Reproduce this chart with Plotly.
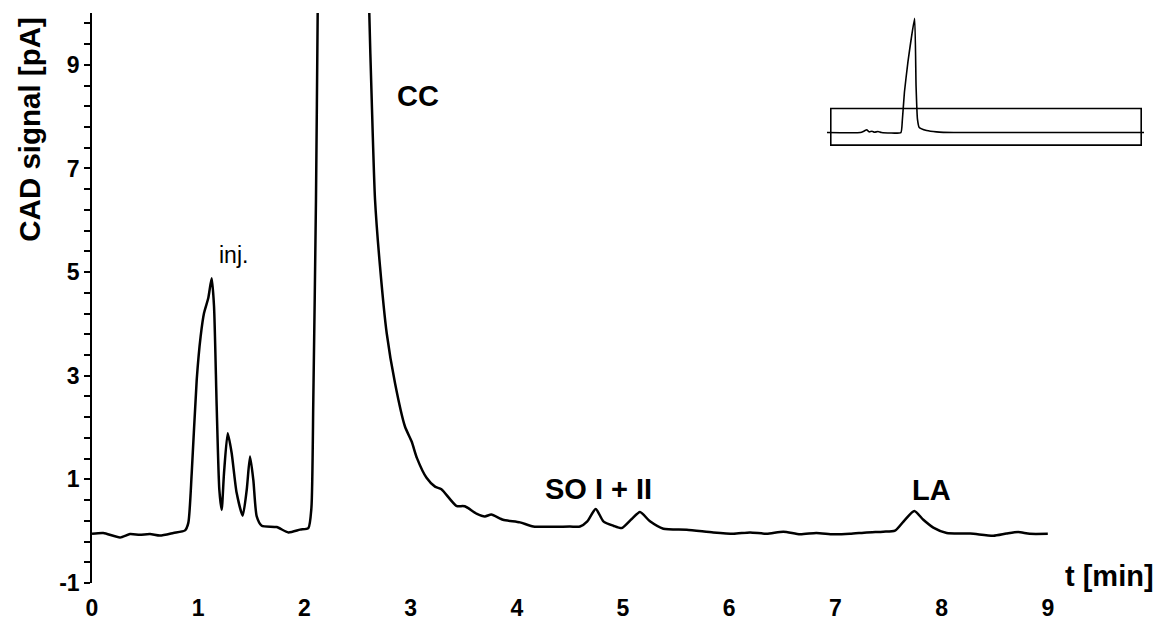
import plotly.graph_objects as go

# ---------------- data ----------------
t_min = [0.0, 0.106, 0.264, 0.358, 0.45, 0.546, 0.64, 0.766, 0.876, 0.907, 0.939, 0.986,
         1.023, 1.055, 1.095, 1.127, 1.149, 1.174, 1.199, 1.221, 1.243, 1.278, 1.315, 1.362,
         1.419, 1.457, 1.488, 1.519, 1.551, 1.598, 1.739, 1.849, 1.959, 2.037, 2.066, 2.084,
         2.109, 2.125, 2.15, 2.35, 2.57, 2.611, 2.634, 2.665, 2.712, 2.775, 2.853, 2.947,
         3.01, 3.06, 3.15, 3.23, 3.29, 3.43, 3.51, 3.62, 3.70, 3.76, 3.87, 4.03, 4.155,
         4.50, 4.595, 4.664, 4.743, 4.815, 4.909, 4.988, 5.082, 5.16, 5.254, 5.38, 5.60,
         5.85, 6.04, 6.196, 6.353, 6.51, 6.667, 6.82, 6.98, 7.137, 7.295, 7.45, 7.561,
         7.655, 7.743, 7.828, 7.922, 8.048, 8.27, 8.487, 8.61, 8.72, 8.83, 9.0]
signal_pA = [-0.05, -0.035, -0.12, -0.055, -0.07, -0.055, -0.085, -0.035, 0.015, 0.16, 1.12, 2.92,
             3.76, 4.21, 4.50, 4.88, 4.34, 2.41, 0.80, 0.41, 1.12, 1.89, 1.51, 0.74,
             0.30, 0.80, 1.44, 0.99, 0.285, 0.105, 0.08, -0.024, 0.03, 0.06, 0.45, 2.54,
             6.40, 10.0, 16.0, 30.0, 16.0, 10.0, 8.32, 6.40, 5.11, 3.82, 2.86, 2.02,
             1.73, 1.41, 1.03, 0.86, 0.81, 0.49, 0.48, 0.34, 0.285, 0.32, 0.22, 0.17, 0.09,
             0.09, 0.09, 0.19, 0.43, 0.19, 0.105, 0.06, 0.235, 0.37, 0.19, 0.048, 0.03,
             -0.024, -0.05, -0.024, -0.05, -0.01, -0.06, -0.035, -0.06, -0.05, -0.024, -0.01, 0.009,
             0.22, 0.39, 0.22, 0.07, -0.035, -0.045, -0.087, -0.045, -0.016, -0.05, -0.05]

# overview inset (full-scale chromatogram)
inset_t = [0.0, 0.95, 1.05, 1.13, 1.2, 1.28, 1.35, 1.45, 1.55, 2.10, 2.14, 2.20, 2.30, 2.49,
           2.53, 2.57, 2.62, 2.83, 3.11, 3.6, 9.0]
inset_signal = [0.0, 0.0, 0.4, 0.8, 0.2, 0.4, 0.1, 0.3, 0.0, 0.0, 3.5, 12.0, 21.0, 34.0,
                14.0, 4.0, 1.5, 0.6, 0.2, 0.0, 0.0]
zoom_window_t = [0.11, 8.92]
zoom_window_signal = [-3.74, 7.13]

x_ticks = [0, 1, 2, 3, 4, 5, 6, 7, 8, 9]
y_ticks = [-1, 1, 3, 5, 7, 9]
peak_labels = ["inj.", "CC", "SO I + II", "LA"]
peak_label_t = [1.33, 3.065, 4.765, 7.905]
peak_label_y = [5.33, 8.40, 0.82, 0.80]

FONT = "Arial, Liberation Sans, sans-serif"

fig = go.Figure()
fig.add_trace(go.Scatter(x=t_min, y=signal_pA, mode="lines",
                         line=dict(color="black", width=2.5, shape="spline", smoothing=0.6),
                         hoverinfo="skip", showlegend=False, cliponaxis=True))
fig.add_trace(go.Scatter(x=inset_t, y=inset_signal, mode="lines", xaxis="x2", yaxis="y2",
                         line=dict(color="black", width=1.6, shape="spline", smoothing=0.4),
                         hoverinfo="skip", showlegend=False))

fig.add_shape(type="rect", xref="x2", yref="y2",
              x0=zoom_window_t[0], x1=zoom_window_t[1],
              y0=zoom_window_signal[0], y1=zoom_window_signal[1],
              line=dict(color="black", width=1.6), fillcolor="rgba(0,0,0,0)")

for i, (lab, xx, yy) in enumerate(zip(peak_labels, peak_label_t, peak_label_y)):
    bold = i > 0
    fig.add_annotation(x=xx, y=yy, xref="x", yref="y", text=lab, showarrow=False,
                       font=dict(family=FONT, size=29 if bold else 23, color="black",
                                 weight="bold" if bold else "normal"))

fig.add_annotation(x=9.14, y=-0.86, xref="x", yref="y", text="t [min]", showarrow=False,
                   xanchor="left", yanchor="middle",
                   font=dict(family=FONT, size=29, color="black", weight="bold"))
fig.add_annotation(x=-0.0584, y=0.797, xref="paper", yref="paper", text="CAD signal [pA]",
                   showarrow=False, textangle=-90, xanchor="center", yanchor="middle",
                   font=dict(family=FONT, size=29.5, color="black", weight="bold"))

fig.update_layout(
    width=1158, height=622,
    margin=dict(l=92, r=4, t=13, b=39, pad=0, autoexpand=False),
    paper_bgcolor="white", plot_bgcolor="white",
    xaxis=dict(range=[0, 10], tickmode="array", tickvals=x_ticks,
               ticktext=[str(v) for v in x_ticks], automargin=False,
               showline=False, showgrid=False, zeroline=False,
               ticks="outside", ticklen=4, tickcolor="rgba(0,0,0,0)",
               tickfont=dict(family=FONT, size=23, color="black", weight="bold")),
    yaxis=dict(range=[-1, 10], tickmode="array", tickvals=y_ticks,
               ticktext=[str(v) for v in y_ticks], automargin=False,
               showline=True, linecolor="black", linewidth=1.6,
               showgrid=False, zeroline=False,
               ticks="outside", ticklen=6, tickwidth=1.6, tickcolor="black",
               minor=dict(ticks="outside", ticklen=6, tickwidth=1.6, tickcolor="black",
                          tickmode="linear", tick0=-1, dtick=0.4, showgrid=False),
               tickfont=dict(family=FONT, size=23, color="black", weight="bold")),
    xaxis2=dict(domain=[0.692, 0.9906], anchor="y2", range=[0, 9], visible=False),
    yaxis2=dict(domain=[0.760, 1.0], anchor="x2", range=[-5.14, 35.57], visible=False),
)

fig.write_html("out.html")
